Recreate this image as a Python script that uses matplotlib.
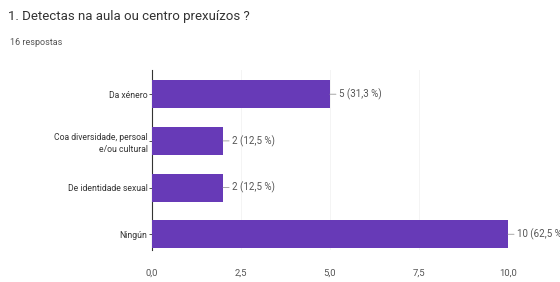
import matplotlib.pyplot as plt

# data
categories = ["Da xénero", "Coa diversidade, persoal\ne/ou cultural", "De identidade sexual", "Ningún"]
counts = [5, 2, 2, 10]
labels = ["5 (31,3 %)", "2 (12,5 %)", "2 (12,5 %)", "10 (62,5 %)"]
xticks = [0, 2.5, 5, 7.5, 10]
xtick_labels = ["0,0", "2,5", "5,0", "7,5", "10,0"]

plt.rcParams['font.family'] = ['Roboto', 'DejaVu Sans']

fig = plt.figure(figsize=(5.6, 2.82), dpi=100)
ax = fig.add_axes([0.271, 0.113, 0.636, 0.639])

pos = range(len(categories))
ax.barh(pos, counts, height=0.6, color="#673ab7", zorder=3)

# value labels with a short leader line
for i, (v, t) in enumerate(zip(counts, labels)):
    ax.annotate(t, xy=(v, i), xytext=(v + 0.25, i), fontsize=7, color="#555555",
                va="center", ha="left",
                arrowprops=dict(arrowstyle="-", color="#999999", lw=0.6,
                                shrinkA=0, shrinkB=0), annotation_clip=False)

ax.set_xlim(0, 10)
ax.set_ylim(3.34, -0.52)
ax.set_yticks(list(pos))
ax.set_yticklabels(categories, fontsize=6.2, color="#333333", linespacing=1.4)
ax.set_xticks(xticks)
ax.set_xticklabels(xtick_labels, fontsize=6.8, color="#555555")
ax.tick_params(axis="y", length=2, width=0.6, color="#333333", pad=1)
ax.tick_params(axis="x", length=0, pad=13)
ax.grid(axis="x", color="#f2f2f2", lw=0.6, zorder=0)
for s in ["top", "right", "bottom"]:
    ax.spines[s].set_visible(False)
ax.spines["left"].set_color("#333333")
ax.spines["left"].set_linewidth(0.8)

fig.text(0.015, 0.943, "1. Detectas na aula ou centro prexuízos ?", fontsize=9.5,
         color="#333333", va="center")
fig.text(0.017, 0.851, "16 respostas", fontsize=6.5, color="#555555", va="center")

fig.savefig("out.png", dpi=100)
